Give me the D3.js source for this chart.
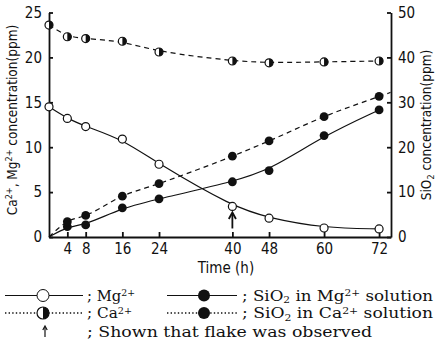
<!DOCTYPE html>
<html>
<head>
<meta charset="utf-8">
<script src="https://cdn.jsdelivr.net/npm/d3@7"></script>
<style>
  body { margin: 0; background: #fff; }
  svg { display: block; }
  .tick text, .axis-title { font-family: "Liberation Sans Narrow", "DejaVu Sans Condensed", "Arial Narrow", sans-serif; font-stretch: condensed; fill: #111; }
  .legend text { font-family: "DejaVu Serif", "Liberation Serif", serif; fill: #111; }
</style>
</head>
<body>
<div id="chart"></div>
<script>
// data
var hours = [0, 4, 8, 16, 24, 40, 48, 60, 72];
var mg = [14.5, 13.2, 12.3, 10.9, 8.1, 3.4, 2.1, 1.0, 0.9];          // Mg2+ (ppm, left)
var ca = [23.6, 22.3, 22.1, 21.8, 20.6, 19.6, 19.4, 19.5, 19.6];     // Ca2+ (ppm, left)
var siMg = [0, 2.3, 2.7, 6.5, 8.5, 12.3, 14.8, 22.6, 28.3];          // SiO2 in Mg2+ solution (ppm, right)
var siCa = [0, 3.4, 4.8, 9.1, 11.9, 18.0, 21.4, 26.8, 31.3];         // SiO2 in Ca2+ solution (ppm, right)
var siCaLineEnd = [74.5, 32.2];   // dashed line runs on to the right axis
var flakeAt = [40];               // arrow: flake observed

var xTicks = [4, 8, 16, 24, 40, 48, 60, 72];
var yLeftTicks = [0, 5, 10, 15, 20, 25];
var yRightTicks = [0, 10, 20, 30, 40, 50];

var W = 437, H = 350;
var svg = d3.select("#chart").append("svg").attr("width", W).attr("height", H);

var x = d3.scaleLinear().domain([0, 74.6]).range([49, 391]);
var yL = d3.scaleLinear().domain([0, 25]).range([237, 12.5]);
var yR = d3.scaleLinear().domain([0, 50]).range([237, 12.5]);

// axes
var gx = svg.append("g").attr("transform", "translate(0," + yL(0) + ")")
  .call(d3.axisBottom(x).tickValues(xTicks).tickSizeInner(-5).tickSizeOuter(0).tickPadding(6));
var gl = svg.append("g").attr("transform", "translate(" + x(0) + ",0)")
  .call(d3.axisLeft(yL).tickValues(yLeftTicks).tickSizeInner(-4).tickSizeOuter(0).tickPadding(7));
var gr = svg.append("g").attr("transform", "translate(" + x(74.6) + ",0)")
  .call(d3.axisRight(yR).tickValues(yRightTicks).tickSizeInner(-4).tickSizeOuter(0).tickPadding(7));
[gx, gl, gr].forEach(function(g) {
  g.selectAll("path, line").attr("stroke", "#111").attr("stroke-width", 1.8);
  g.selectAll("text").attr("font-size", 15);
});

// axis titles
function rich(t, parts, small, shift) {
  var off = 0;
  parts.forEach(function(p) {
    var want = p[1] === "sup" ? -shift : p[1] === "sub" ? shift * 0.6 : 0;
    var s = t.append("tspan").attr("dy", want - off).text(p[0]);
    if (p[1]) s.attr("font-size", small);
    off = want;
  });
}
svg.append("text").attr("class", "axis-title")
  .attr("transform", "translate(17,120) rotate(-90)")
  .attr("text-anchor", "middle").attr("font-size", 13.5)
  .call(rich, [["Ca"], ["2+", "sup"], [", Mg"], ["2+", "sup"], [" concentration(ppm)"]], 9, 5);
svg.append("text").attr("class", "axis-title")
  .attr("transform", "translate(431,125) rotate(-90)")
  .attr("text-anchor", "middle").attr("font-size", 13.5)
  .call(rich, [["SiO"], ["2", "sub"], [" concentration(ppm)"]], 9, 5);
svg.append("text").attr("class", "axis-title")
  .attr("x", 226).attr("y", 273).attr("text-anchor", "middle").attr("font-size", 15)
  .text("Time (h)");

// lines
var plot = svg.append("g");
function pts(vals) { return hours.map(function(h, i) { return [h, vals[i]]; }); }

var lineL = function(curve) { return d3.line().x(function(d) { return x(d[0]); }).y(function(d) { return yL(d[1]); }).curve(curve); };
var lineR = function(curve) { return d3.line().x(function(d) { return x(d[0]); }).y(function(d) { return yR(d[1]); }).curve(curve); };

plot.append("path").attr("d", lineL(d3.curveBasis)(pts(mg)))
  .attr("fill", "none").attr("stroke", "#111").attr("stroke-width", 1.2);
plot.append("path").attr("d", lineL(d3.curveBasis)(pts(ca)))
  .attr("fill", "none").attr("stroke", "#111").attr("stroke-width", 1.2).attr("stroke-dasharray", "5,4");
plot.append("path").attr("d", lineR(d3.curveBasis)(pts(siMg)))
  .attr("fill", "none").attr("stroke", "#111").attr("stroke-width", 1.2);
plot.append("path").attr("d", lineR(d3.curveMonotoneX)(pts(siCa).concat([siCaLineEnd])))
  .attr("fill", "none").attr("stroke", "#111").attr("stroke-width", 1.2).attr("stroke-dasharray", "5,4");

// markers
var R = 4;
function halfCircle(g, cx, cy, r) {
  g.append("circle").attr("cx", cx).attr("cy", cy).attr("r", r)
    .attr("fill", "#fff").attr("stroke", "#111").attr("stroke-width", 1.2);
  g.append("path")
    .attr("d", "M" + cx + "," + (cy - r) + "A" + r + "," + r + " 0 0 1 " + cx + "," + (cy + r) + "Z")
    .attr("fill", "#111");
}

plot.selectAll("circle.mg").data(pts(mg)).enter().append("circle").attr("class", "mg")
  .attr("cx", function(d) { return x(d[0]); }).attr("cy", function(d) { return yL(d[1]); })
  .attr("r", R).attr("fill", "#fff").attr("stroke", "#111").attr("stroke-width", 1.2);
pts(ca).forEach(function(d) { halfCircle(plot, x(d[0]), yL(d[1]), R); });
plot.selectAll("circle.si").data(pts(siMg).slice(1).concat(pts(siCa).slice(1))).enter().append("circle").attr("class", "si")
  .attr("cx", function(d) { return x(d[0]); }).attr("cy", function(d) { return yR(d[1]); })
  .attr("r", R + 0.4).attr("fill", "#111");

// flake arrow
function arrow(g, ax, top, bot, head, w) {
  g.append("line").attr("x1", ax).attr("x2", ax).attr("y1", top + 1).attr("y2", bot)
    .attr("stroke", "#111").attr("stroke-width", w);
  g.append("path").attr("d", "M" + (ax - head * 0.55) + "," + (top + head) + "L" + ax + "," + top + "L" + (ax + head * 0.55) + "," + (top + head))
    .attr("fill", "none").attr("stroke", "#111").attr("stroke-width", w);
}
flakeAt.forEach(function(h) {
  var i = hours.indexOf(h);
  var top = yL(mg[i]) + R + 2;
  arrow(plot, x(h), top, top + 16, 6.5, 1.8);
});

// legend
var lg = svg.append("g").attr("class", "legend");
function legendRow(g, x0, x1, cx, cy, dash, kind) {
  g.append("line").attr("x1", x0).attr("x2", x1).attr("y1", cy).attr("y2", cy)
    .attr("stroke", "#111").attr("stroke-width", dash ? 1.4 : 1).attr("stroke-dasharray", dash ? "1.4,2.2" : null);
  var r = 6;
  if (kind === "open") {
    g.append("circle").attr("cx", cx).attr("cy", cy).attr("r", r).attr("fill", "#fff").attr("stroke", "#111").attr("stroke-width", 1);
  } else if (kind === "half") {
    halfCircle(g, cx, cy, r);
  } else {
    g.append("circle").attr("cx", cx).attr("cy", cy).attr("r", r).attr("fill", "#111");
  }
}
function legendText(g, tx, ty, parts, len) {
  var t = g.append("text").attr("x", tx).attr("y", ty).attr("font-size", 15);
  rich(t, parts, 9.5, 4.5);
  if (len) t.attr("textLength", len).attr("lengthAdjust", "spacingAndGlyphs");
}
legendRow(lg, 5, 83, 43, 295.5, false, "open");
legendText(lg, 87, 300.5, [["; Mg"], ["2+", "sup"]], 48);
legendRow(lg, 167, 237, 204, 295.5, false, "filled");
legendText(lg, 242, 300.5, [["; SiO"], ["2", "sub"], [" in Mg"], ["2+", "sup"], [" solution"]], 191);
legendRow(lg, 5, 83, 43, 313, true, "half");
legendText(lg, 87, 318, [["; Ca"], ["2+", "sup"]], 45);
legendRow(lg, 167, 237, 204, 313, true, "filled");
legendText(lg, 242, 318, [["; SiO"], ["2", "sub"], [" in Ca"], ["2+", "sup"], [" solution"]], 191);
arrow(lg, 45, 326, 337, 4, 1.2);
legendText(lg, 87, 336.5, [["; Shown that flake was observed"]], 285);
</script>
</body>
</html>
